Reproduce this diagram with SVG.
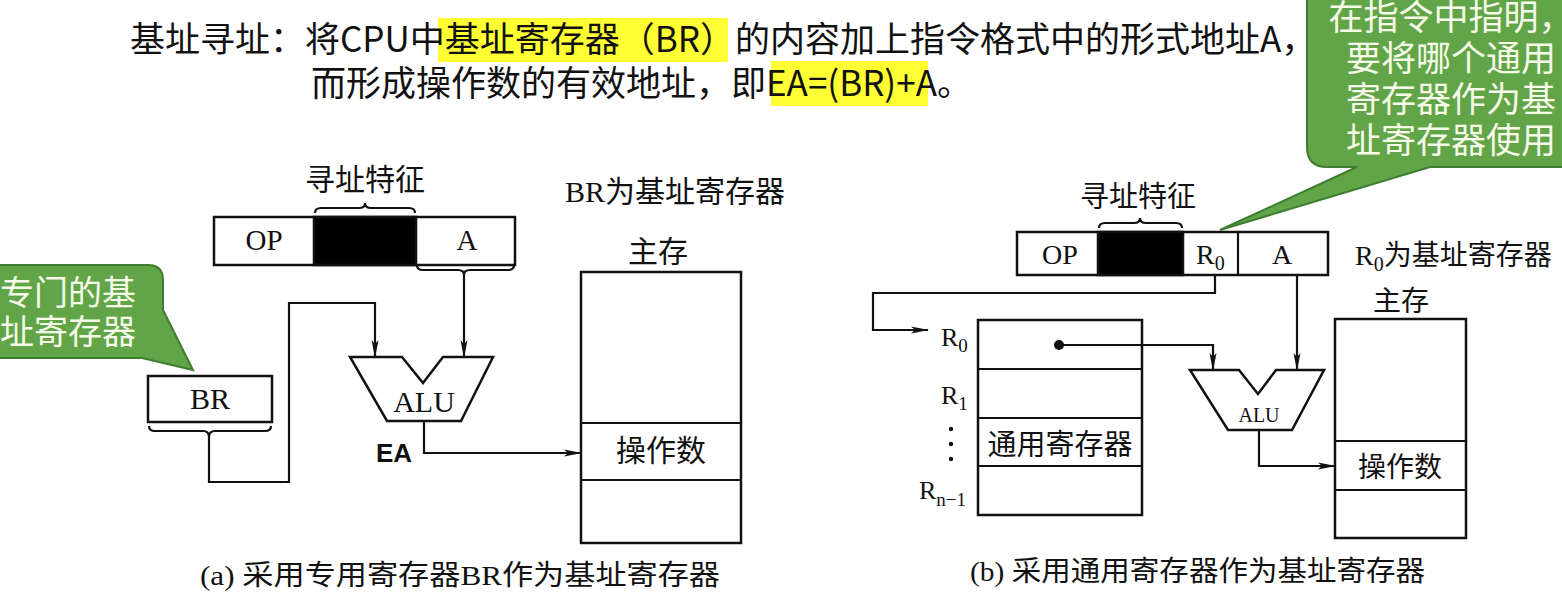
<svg xmlns="http://www.w3.org/2000/svg" width="1562" height="595" viewBox="0 0 1562 595">
<style>
.hd{font-family:"Noto Sans CJK SC","Noto Sans",sans-serif;font-size:35px;fill:#111}
.sr{font-family:"Liberation Serif","Noto Sans CJK SC",serif;fill:#111}
.box{fill:#fff;stroke:#111;stroke-width:2.5}
.blk{fill:#000;stroke:#111;stroke-width:2.5}
.ln{fill:none;stroke:#111;stroke-width:2.2}
.wire{fill:none;stroke:#111;stroke-width:2.2}
.arr{fill:none;stroke:#111;stroke-width:2.2;marker-end:url(#ah)}
.call{fill:#62a548;stroke:#3e7d30;stroke-width:2}
.ct{font-family:"Noto Sans CJK SC","Noto Sans",sans-serif;font-size:34px;fill:#f6fbe9}
.hl{fill:#ffff33}
</style>
<defs>
<marker id="ah" viewBox="0 0 18 8" refX="17" refY="4" markerWidth="18" markerHeight="8" markerUnits="userSpaceOnUse" orient="auto">
<path d="M0,0.5 L18,4 L0,7.5 L4,4 z" fill="#111"/>
</marker>
</defs>
<rect width="1562" height="595" fill="#fff"/>

<g id="heading">
<rect class="hl" x="438" y="18" width="290" height="44"/>
<rect class="hl" x="771" y="61" width="157" height="45"/>
<text class="hd" x="130" y="52">基址寻址：将CPU中基址寄存器（BR）的内容加上指令格式中的形式地址A，</text>
<text class="hd" x="311" y="96">而形成操作数的有效地址，即EA=(BR)+A。</text>
</g>

<g id="callout-left">
<path class="call" d="M-20,265 H148 Q163,265 163,280 V310 L193,370 L142,358 H-20 Z"/>
<text class="ct" x="0" y="305">专门的基</text>
<text class="ct" x="0" y="344">址寄存器</text>
</g>

<g id="callout-right">
<path class="call" d="M1327,-20 H1600 V167 H1430 L1220,230 L1357,167 H1327 Q1307,167 1307,147 V0 Q1307,-20 1327,-20 Z"/>
<text class="ct" x="1451" y="30" text-anchor="middle" style="font-size:35px">在指令中指明，</text>
<text class="ct" x="1451" y="71" text-anchor="middle" style="font-size:35px">要将哪个通用</text>
<text class="ct" x="1451" y="112" text-anchor="middle" style="font-size:35px">寄存器作为基</text>
<text class="ct" x="1451" y="153" text-anchor="middle" style="font-size:35px">址寄存器使用</text>
</g>

<!-- Diagram (a) -->
<g id="a-label-feature">
<text class="sr" x="365" y="190" text-anchor="middle" font-size="30">寻址特征</text>
<path class="ln" d="M315,213 Q315,208 321,208 H359 Q365,208 365,203 Q365,208 371,208 H409 Q415,208 415,213"/>
</g>
<g id="a-instr">
<rect class="box" x="214" y="217" width="301" height="48"/>
<rect class="blk" x="314" y="217" width="102" height="48"/>
<text class="sr" x="264" y="250" text-anchor="middle" font-size="29">OP</text>
<text class="sr" x="467" y="250" text-anchor="middle" font-size="29">A</text>
<path class="ln" d="M417,265 Q417,270 423,270 H458 Q464,270 464,275 Q464,270 470,270 H508 Q514,270 514,265"/>
</g>
<g id="a-br-title"><text class="sr" x="565" y="202" font-size="30">BR为基址寄存器</text></g>
<g id="a-br">
<rect class="box" x="148" y="376" width="124" height="46"/>
<text class="sr" x="210" y="409" text-anchor="middle" font-size="30">BR</text>
<path class="ln" d="M149,426 Q149,431 155,431 H203 Q209,431 209,437 Q209,431 215,431 H265 Q271,431 271,426"/>
</g>
<g id="a-alu">
<polygon class="box" points="350,357 402,357 423,383 443,357 493,357 461,421 387,421"/>
<text class="sr" x="424" y="412" text-anchor="middle" font-size="30">ALU</text>
</g>
<g id="a-ea"><text x="394" y="462" text-anchor="middle" font-family="Liberation Sans, sans-serif" font-weight="bold" font-size="26" fill="#111">EA</text></g>
<g id="a-mem">
<text class="sr" x="658" y="262" text-anchor="middle" font-size="30">主存</text>
<rect class="box" x="581" y="272" width="160" height="271"/>
<line class="ln" x1="581" y1="423" x2="741" y2="423"/>
<line class="ln" x1="581" y1="480" x2="741" y2="480"/>
<text class="sr" x="661" y="461" text-anchor="middle" font-size="30">操作数</text>
</g>

<!-- Diagram (b) -->
<g id="b-label-feature">
<text class="sr" x="1138" y="207" text-anchor="middle" font-size="29">寻址特征</text>
<path class="ln" d="M1099,228 Q1099,223 1105,223 H1134 Q1140,223 1140,218 Q1140,223 1146,223 H1176 Q1182,223 1182,228"/>
</g>
<g id="b-instr">
<rect class="box" x="1017" y="232" width="311" height="43"/>
<rect class="blk" x="1098" y="232" width="85" height="43"/>
<line class="ln" x1="1238" y1="232" x2="1238" y2="275"/>
<text class="sr" x="1060" y="264" text-anchor="middle" font-size="28">OP</text>
<text class="sr" x="1196" y="264" font-size="28">R<tspan font-size="20" dy="6">0</tspan></text>
<text class="sr" x="1282" y="264" text-anchor="middle" font-size="28">A</text>
</g>
<g id="b-r0-title"><text class="sr" x="1355" y="265" font-size="28">R<tspan font-size="20" dy="6">0</tspan><tspan dy="-6">为基址寄存器</tspan></text></g>
<g id="b-regs">
<rect class="box" x="978" y="320" width="164" height="195"/>
<line class="ln" x1="978" y1="369" x2="1142" y2="369"/>
<line class="ln" x1="978" y1="418" x2="1142" y2="418"/>
<line class="ln" x1="978" y1="466" x2="1142" y2="466"/>
<text class="sr" x="1060" y="455" text-anchor="middle" font-size="29">通用寄存器</text>
<text class="sr" x="941" y="346" font-size="26">R<tspan font-size="19" dy="6">0</tspan></text>
<text class="sr" x="941" y="404" font-size="26">R<tspan font-size="19" dy="6">1</tspan></text>
<circle cx="951" cy="429" r="2.2" fill="#111"/>
<circle cx="951" cy="444" r="2.2" fill="#111"/>
<circle cx="951" cy="459" r="2.2" fill="#111"/>
<text class="sr" x="919" y="499" font-size="26">R<tspan font-size="19" dy="7">n−1</tspan></text>
<circle cx="1059" cy="345" r="5" fill="#111"/>
</g>
<g id="b-alu">
<polygon class="box" points="1190,370 1239,370 1258,394 1276,370 1324,370 1292,430 1228,430"/>
<text class="sr" x="1259" y="422" text-anchor="middle" font-size="20">ALU</text>
</g>
<g id="b-mem">
<text class="sr" x="1401" y="311" text-anchor="middle" font-size="28">主存</text>
<rect class="box" x="1335" y="319" width="131" height="219"/>
<line class="ln" x1="1335" y1="441" x2="1466" y2="441"/>
<line class="ln" x1="1335" y1="490" x2="1466" y2="490"/>
<text class="sr" x="1400" y="477" text-anchor="middle" font-size="28">操作数</text>
</g>

<g id="connectors">
<path class="arr" d="M464,275 V357"/>
<path class="arr" d="M209,437 V482 H289 V303 H375 V357"/>
<path class="arr" d="M424,421 V453 H581"/>
<path class="arr" d="M1215,275 V293 H873 V330 H928"/>
<path class="arr" d="M1059,345 H1213 V370"/>
<path class="arr" d="M1297,275 V370"/>
<path class="arr" d="M1259,430 V466 H1335"/>
</g>

<g id="captions">
<text class="sr" x="200" y="585" font-size="28" textLength="520" lengthAdjust="spacingAndGlyphs">(a) 采用专用寄存器BR作为基址寄存器</text>
<text class="sr" x="970" y="581" font-size="28" textLength="455" lengthAdjust="spacingAndGlyphs">(b) 采用通用寄存器作为基址寄存器</text>
</g>
</svg>
